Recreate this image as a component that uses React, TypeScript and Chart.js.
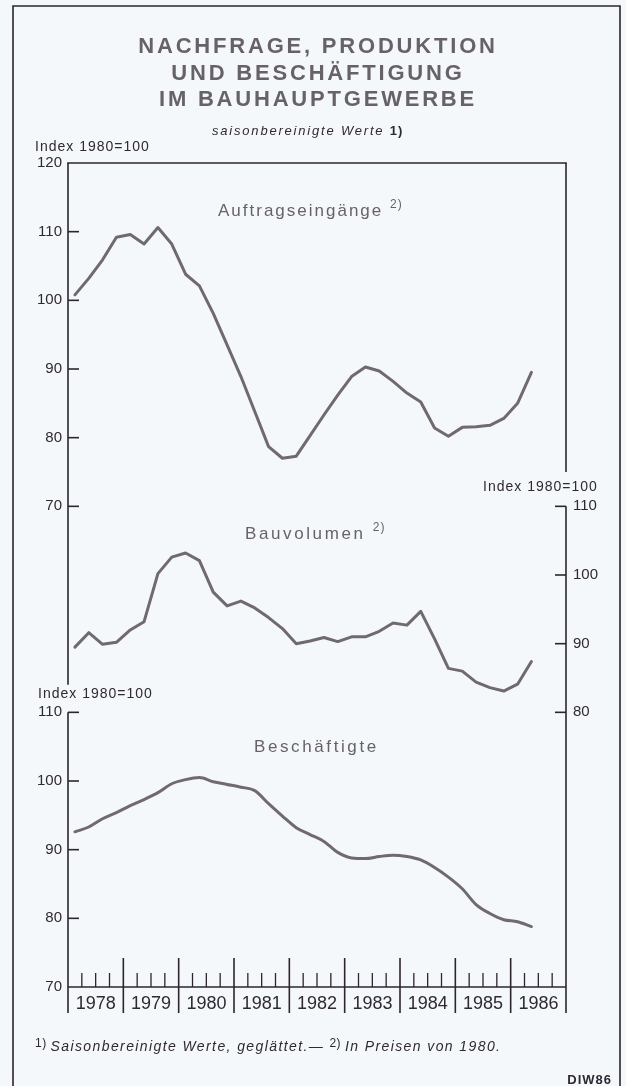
import React, { useEffect, useRef } from "react";
import { Chart, registerables } from "chart.js";

Chart.register(...registerables);

// ---------- data ----------
const years = ["1978", "1979", "1980", "1981", "1982", "1983", "1984", "1985", "1986"];
const quarterNames = ["I", "II", "III", "IV"];
const quarterLabels = years.flatMap((y) => quarterNames.map((q) => `${q}/${y}`));

// Auftragseingänge (left upper axis, Index 1980=100)
const auftragseingaenge = [
  100.8, 103.2, 105.9, 109.2,
  109.6, 108.2, 110.6, 108.2,
  103.8, 102.1, 98.1, 93.5,
  88.9, 83.8, 78.7, 77.0,
  77.3, 80.3, 83.3, 86.2,
  88.9, 90.3, 89.7, 88.2,
  86.5, 85.2, 81.4, 80.2,
  81.5, 81.6, 81.8, 82.8,
  85.0, 89.5,
];

// Bauvolumen (right axis)
const bauvolumen = [
  89.5, 91.6, 89.9, 90.2,
  92.0, 93.2, 100.2, 102.6,
  103.2, 102.1, 97.5, 95.5,
  96.2, 95.2, 93.8, 92.2,
  90.0, 90.4, 90.9, 90.3,
  91.0, 91.0, 91.8, 93.0,
  92.7, 94.7, 90.7, 86.4,
  86.0, 84.4, 83.6, 83.1,
  84.1, 87.4,
];

// Beschäftigte (left lower axis)
const beschaeftigte = [
  92.6, 93.3, 94.5, 95.4,
  96.4, 97.3, 98.3, 99.6,
  100.2, 100.5, 99.9, 99.5,
  99.1, 98.6, 96.7, 94.9,
  93.2, 92.2, 91.2, 89.6,
  88.8, 88.7, 89.0, 89.2,
  89.0, 88.5, 87.4, 86.0,
  84.3, 82.0, 80.7, 79.8,
  79.5, 78.8,
];

const ticksAuftrag = [70, 80, 90, 100, 110, 120];
const ticksBau = [80, 90, 100, 110];
const ticksBesch = [70, 80, 90, 100, 110];

const titleLines = ["NACHFRAGE, PRODUKTION", "UND BESCHÄFTIGUNG", "IM BAUHAUPTGEWERBE"];

// ---------- styles ----------
const FONT = "'Liberation Sans', Arial, Helvetica, sans-serif";
const BG = "#f5f8fa";
const LINE = "#716971";
const AXIS = "#2c2430";
const TEXT = "#2f2933";
const GREY = "#67626a";

type Seg = { t: string; font: string; dy?: number; sp?: number };

function drawSegs(ctx: CanvasRenderingContext2D, segs: Seg[], x: number, y: number, color: string) {
  let cx = x;
  ctx.save();
  ctx.fillStyle = color;
  ctx.textBaseline = "middle";
  ctx.textAlign = "left";
  for (const s of segs) {
    ctx.font = s.font;
    (ctx as any).letterSpacing = (s.sp ?? 0) + "px";
    ctx.fillText(s.t, cx, y + (s.dy ?? 0));
    cx += ctx.measureText(s.t).width;
  }
  ctx.restore();
}

function drawText(
  ctx: CanvasRenderingContext2D,
  t: string,
  x: number,
  y: number,
  font: string,
  color: string,
  align: CanvasTextAlign = "left",
  sp = 0
) {
  ctx.save();
  ctx.font = font;
  ctx.fillStyle = color;
  ctx.textAlign = align;
  ctx.textBaseline = "middle";
  (ctx as any).letterSpacing = sp + "px";
  ctx.fillText(t, x, y);
  ctx.restore();
}

const decorPlugin = {
  id: "decor",
  beforeDraw(chart: any) {
    const { ctx, width, height } = chart;
    ctx.save();
    ctx.fillStyle = BG;
    ctx.fillRect(0, 0, width, height);
    ctx.restore();
  },
  afterDraw(chart: any) {
    const { ctx, chartArea: ca, scales } = chart;
    const xs = scales.x;
    const yA = scales.yA;
    const yB = scales.yB;
    const yR = scales.yR;
    const L = ca.left;
    const R = ca.right;
    const T = ca.top;
    const B = ca.bottom;

    ctx.save();
    ctx.strokeStyle = AXIS;
    ctx.lineWidth = 1.6;
    ctx.lineCap = "butt";
    const line = (x1: number, y1: number, x2: number, y2: number) => {
      ctx.beginPath();
      ctx.moveTo(x1, y1);
      ctx.lineTo(x2, y2);
      ctx.stroke();
    };

    // outer frame
    ctx.beginPath();
    ctx.moveTo(13, 1095);
    ctx.lineTo(13, 6);
    ctx.lineTo(620, 6);
    ctx.lineTo(620, 1095);
    ctx.stroke();

    // box / axes
    line(L - 0.8, T, R + 0.8, T);
    line(L, T, L, yA.getPixelForValue(44));
    line(L, yB.getPixelForValue(110), L, B + 26);
    line(R, T, R, yR.getPixelForValue(115));
    line(R, yR.getPixelForValue(110), R, B + 26);
    line(L, B, R, B);

    // inward tick marks
    for (const v of ticksAuftrag) if (v < 120) line(L, yA.getPixelForValue(v), L + 11, yA.getPixelForValue(v));
    for (const v of ticksBesch) if (v > 70) line(L, yB.getPixelForValue(v), L + 11, yB.getPixelForValue(v));
    for (const v of ticksBau) line(R - 11, yR.getPixelForValue(v), R, yR.getPixelForValue(v));

    // time axis: year separators and quarter ticks
    const step = xs.getPixelForValue(1) - xs.getPixelForValue(0);
    const x0 = xs.getPixelForValue(0) - step / 2;
    for (let i = 1; i < quarterLabels.length; i++) {
      const px = x0 + i * step;
      if (i % 4 === 0) {
        ctx.lineWidth = 1.6;
        line(px, B - 29, px, B + 26);
      } else {
        ctx.lineWidth = 1.3;
        line(px, B - 14, px, B);
      }
    }
    ctx.restore();

    // title
    titleLines.forEach((t, i) => {
      drawText(ctx, t, 318, 47 + i * 26.5, `bold 22px ${FONT}`, GREY, "center", 2.8);
    });
    drawSegs(
      ctx,
      [
        { t: "saisonbereinigte Werte ", font: `italic 13px ${FONT}`, sp: 1.8 },
        { t: "1)", font: `bold 13px ${FONT}`, sp: 1 },
      ],
      212,
      131,
      TEXT
    );

    // axis captions
    drawText(ctx, "Index 1980=100", 35, 147, `14px ${FONT}`, TEXT, "left", 1);
    drawText(ctx, "Index 1980=100", 483, 487, `14px ${FONT}`, TEXT, "left", 1);
    drawText(ctx, "Index 1980=100", 38, 694, `14px ${FONT}`, TEXT, "left", 1);

    // series captions
    drawSegs(
      ctx,
      [
        { t: "Auftragseingänge ", font: `17px ${FONT}`, sp: 2 },
        { t: "2)", font: `12px ${FONT}`, dy: -6, sp: 1 },
      ],
      218,
      211,
      GREY
    );
    drawSegs(
      ctx,
      [
        { t: "Bauvolumen ", font: `17px ${FONT}`, sp: 2.6 },
        { t: "2)", font: `12px ${FONT}`, dy: -6, sp: 1 },
      ],
      245,
      534,
      GREY
    );
    drawSegs(ctx, [{ t: "Beschäftigte", font: `17px ${FONT}`, sp: 2.6 }], 254, 747, GREY);

    // footnote
    drawSegs(
      ctx,
      [
        { t: "1) ", font: `12px ${FONT}`, dy: -3, sp: 0.5 },
        { t: "Saisonbereinigte Werte, geglättet.— ", font: `italic 14px ${FONT}`, sp: 1.4 },
        { t: "2) ", font: `12px ${FONT}`, dy: -3, sp: 0.5 },
        { t: "In Preisen von 1980.", font: `italic 14px ${FONT}`, sp: 1.4 },
      ],
      35,
      1047,
      TEXT
    );
    drawText(ctx, "DIW86", 612, 1080, `bold 13px ${FONT}`, TEXT, "right", 1);
  },
};

export default function App() {
  const ref = useRef<HTMLCanvasElement>(null);

  useEffect(() => {
    const canvas = ref.current;
    if (!canvas) return;
    const common = {
      borderColor: LINE,
      borderWidth: 3,
      pointRadius: 0,
      borderJoinStyle: "round" as const,
      borderCapStyle: "round" as const,
      fill: false,
    };
    const chart = new Chart(canvas, {
      type: "line",
      data: {
        labels: quarterLabels,
        datasets: [
          { ...common, label: "Auftragseingänge", data: auftragseingaenge, yAxisID: "yA", tension: 0 },
          { ...common, label: "Bauvolumen", data: bauvolumen, yAxisID: "yR", tension: 0 },
          {
            ...common,
            label: "Beschäftigte",
            data: beschaeftigte,
            yAxisID: "yB",
            cubicInterpolationMode: "monotone",
          },
        ],
      },
      options: {
        responsive: false,
        animation: false,
        devicePixelRatio: 1,
        layout: { padding: { top: 163, left: 0, right: 0, bottom: 0 } },
        plugins: {
          legend: { display: false },
          tooltip: { enabled: false },
          title: { display: false },
        },
        scales: {
          x: {
            type: "category",
            offset: true,
            grid: { display: false, drawTicks: false },
            border: { display: false },
            afterFit: (s: any) => {
              s.height = 99;
            },
            ticks: {
              autoSkip: false,
              maxRotation: 0,
              minRotation: 0,
              padding: 6,
              labelOffset: 7,
              color: TEXT,
              font: { family: FONT, size: 18 },
              callback: (_v: any, i: number) => (i % 4 === 1 ? years[Math.floor(i / 4)] : ""),
            },
          },
          yA: {
            type: "linear",
            position: "left",
            stack: "left",
            stackWeight: 80,
            weight: 1,
            min: 40,
            max: 120,
            grid: { display: false, drawTicks: false },
            border: { display: false },
            afterBuildTicks: (s: any) => {
              s.ticks = ticksAuftrag.map((v) => ({ value: v }));
            },
            afterFit: (s: any) => {
              s.width = 68;
            },
            ticks: { padding: 6, color: TEXT, font: { family: FONT, size: 15 } },
          },
          yB: {
            type: "linear",
            position: "left",
            stack: "left",
            stackWeight: 40,
            weight: 0,
            min: 70,
            max: 110,
            grid: { display: false, drawTicks: false },
            border: { display: false },
            afterBuildTicks: (s: any) => {
              s.ticks = ticksBesch.map((v) => ({ value: v }));
            },
            afterFit: (s: any) => {
              s.width = 68;
            },
            ticks: { padding: 6, color: TEXT, font: { family: FONT, size: 15 } },
          },
          yR: {
            type: "linear",
            position: "right",
            min: 40,
            max: 160,
            grid: { display: false, drawTicks: false },
            border: { display: false },
            afterBuildTicks: (s: any) => {
              s.ticks = ticksBau.map((v) => ({ value: v }));
            },
            afterFit: (s: any) => {
              s.width = 60;
            },
            ticks: { padding: 7, color: TEXT, font: { family: FONT, size: 15 } },
          },
        },
      } as any,
      plugins: [decorPlugin],
    });
    return () => chart.destroy();
  }, []);

  return (
    <div style={{ position: "fixed", left: 0, top: 0, width: 626, height: 1086, background: BG }}>
      <canvas ref={ref} width={626} height={1086} style={{ display: "block", width: 626, height: 1086 }} />
    </div>
  );
}
